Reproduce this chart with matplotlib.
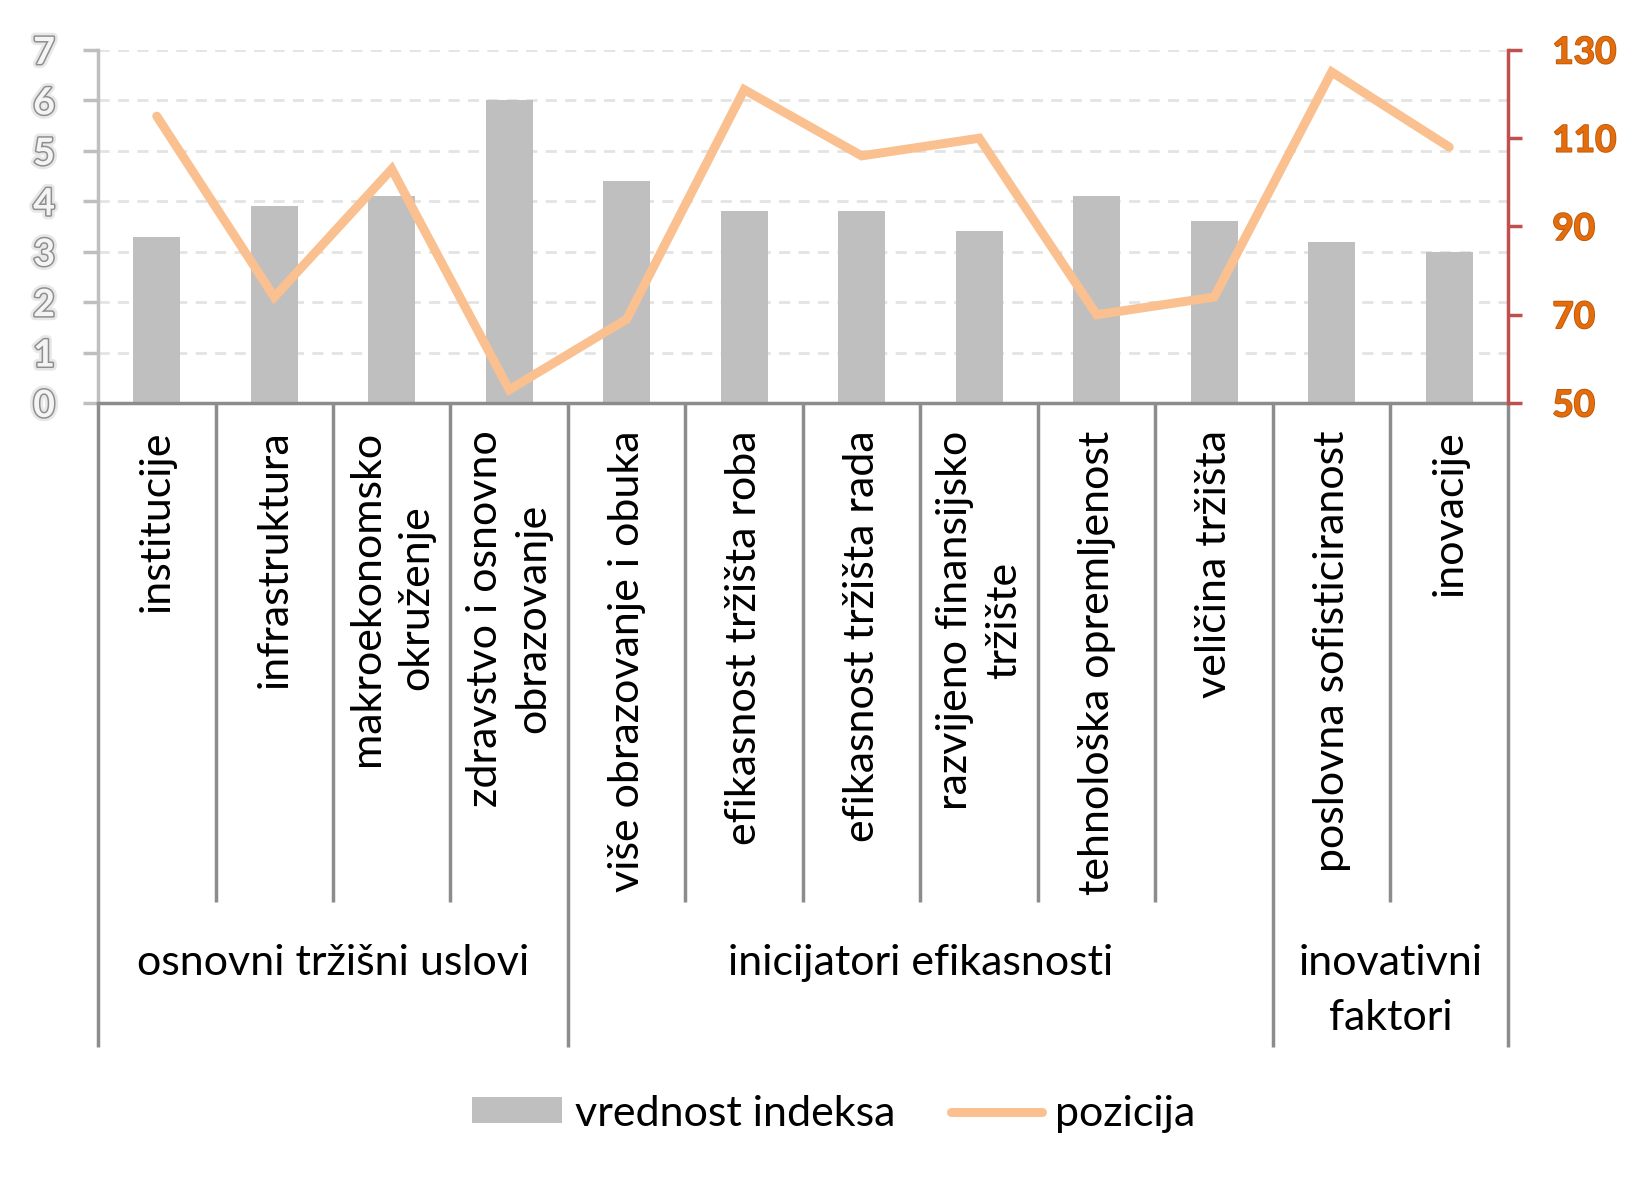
import matplotlib
matplotlib.use('Agg')
import matplotlib.pyplot as plt
import matplotlib.patheffects as pe
from matplotlib.lines import Line2D
from matplotlib.patches import Patch
import numpy as np

plt.rcParams['font.family'] = ['Lato', 'DejaVu Sans']

BAR = '#bfbfbf'
LINE = '#fac090'
RED = '#c0504d'
ORANGE = '#e46c0a'
GRID = '#e3e3e3'
SEP = '#8c8c8c'

categories = ['institucije', 'infrastruktura', 'makroekonomsko\nokruženje',
              'zdravstvo i osnovno\nobrazovanje', 'više obrazovanje i obuka',
              'efikasnost tržišta roba', 'efikasnost tržišta rada',
              'razvijeno finansijsko\ntržište', 'tehnološka opremljenost',
              'veličina tržišta', 'poslovna sofisticiranost', 'inovacije']
index_vals = [3.3, 3.9, 4.1, 6.0, 4.4, 3.8, 3.8, 3.4, 4.1, 3.6, 3.2, 3.0]
position = [115, 74, 103, 53, 69, 121, 106, 110, 70, 74, 125, 108]
groups = ['osnovni tržišni uslovi', 'inicijatori efikasnosti', 'inovativni\nfaktori']
group_sizes = [4, 6, 2]

x = np.arange(len(categories))

fig = plt.figure(figsize=(16.5, 11.81), dpi=100)
ax = fig.add_axes([0.0594, 0.6588, 0.8545, 0.2989])
ax2 = ax.twinx()

ax.bar(x, index_vals, width=0.4, color=BAR, zorder=2)
ax.set_xlim(-0.5, len(categories) - 0.5)
ax.set_ylim(0, 7)
ax.set_yticks(range(8))
ax.set_axisbelow(True)
ax.grid(axis='y', color=GRID, linewidth=2, linestyle=(0, (4, 3)))
ax.set_xticks([])

for s in ['top', 'right']:
    ax.spines[s].set_visible(False)
ax.spines['left'].set_color(BAR)
ax.spines['left'].set_linewidth(2.5)
ax.spines['bottom'].set_color(SEP)
ax.spines['bottom'].set_linewidth(2.5)
ax.tick_params(axis='y', direction='out', length=11, width=2.5, color=BAR,
               pad=20, labelsize=27, labelcolor='#f4f4f4')
for lab in ax.get_yticklabels():
    lab.set_fontweight('bold')
    lab.set_path_effects([pe.Stroke(linewidth=6, foreground='#e8e8e8'),
                          pe.Stroke(linewidth=2.2, foreground='#8f8f8f'),
                          pe.Normal()])

ax2.plot(x, position, color=LINE, linewidth=6.5, solid_capstyle='round',
         solid_joinstyle='miter', zorder=3)
ax2.set_ylim(50, 130)
ax2.set_yticks([50, 70, 90, 110, 130])
for s in ['top', 'left', 'bottom']:
    ax2.spines[s].set_visible(False)
ax2.spines['right'].set_color(RED)
ax2.spines['right'].set_linewidth(2.5)
ax2.tick_params(axis='y', direction='out', length=10, width=2.5, color=RED,
                pad=22, labelsize=26.5, labelcolor=ORANGE)
for lab in ax2.get_yticklabels():
    lab.set_fontweight('bold')
    lab.set_path_effects([pe.withStroke(linewidth=1.2, foreground='#b8560c')])

# category labels and separators below the axis
tr = ax.get_xaxis_transform()
for i, name in enumerate(categories):
    ax.text(i, -0.078, name, transform=tr, rotation=90, ha='center', va='top',
            multialignment='center', fontsize=31, linespacing=1.35)

cat_bottom = -1.4136
grp_bottom = -1.824
bounds = np.cumsum([0] + group_sizes) - 0.5
for i in range(len(categories) + 1):
    xs = i - 0.5
    yb = grp_bottom if xs in bounds else cat_bottom
    ax.plot([xs, xs], [0, yb], transform=tr, color=SEP, linewidth=2.5,
            clip_on=False, solid_capstyle='butt')

for g, name in enumerate(groups):
    center = (bounds[g] + bounds[g + 1]) / 2
    ax.text(center, -1.533, name, transform=tr, ha='center', va='top',
            multialignment='center', fontsize=31, linespacing=1.55)

handles = [Patch(facecolor=BAR, edgecolor='none', label='vrednost indeksa'),
           Line2D([], [], color=LINE, linewidth=6.5, solid_capstyle='round',
                  label='pozicija')]
fig.legend(handles=handles, loc='center', bbox_to_anchor=(0.505, 0.057),
           ncol=2, frameon=False, fontsize=31, handlelength=2.1,
           handleheight=0.55, handletextpad=0.3, columnspacing=1.3)

fig.savefig('out.png', dpi=100, facecolor='white')
